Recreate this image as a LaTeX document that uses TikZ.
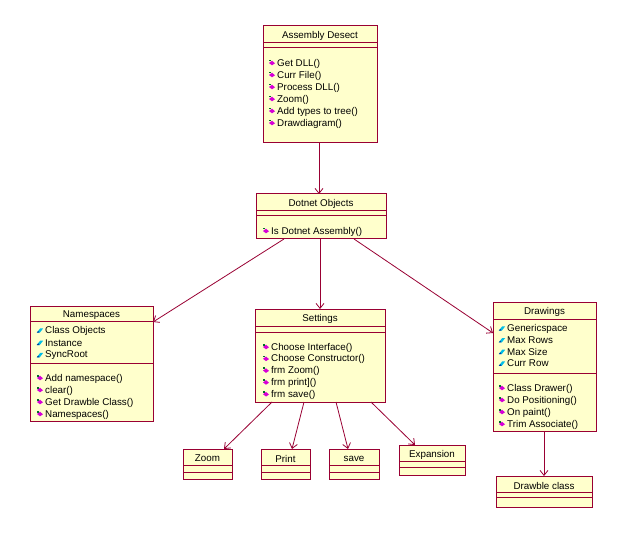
\documentclass[tikz,border=0pt]{standalone}
\usepackage{fontspec}
\setmainfont{Liberation Sans}
\usetikzlibrary{arrows.meta,calc}
\definecolor{umlborder}{RGB}{153,0,51}
\definecolor{umlfill}{RGB}{255,255,204}
\definecolor{opmag}{RGB}{214,0,214}
\definecolor{opgreen}{RGB}{0,110,40}
\definecolor{atcyan}{RGB}{0,190,230}
\definecolor{atblue}{RGB}{0,60,160}
\begin{document}
\begin{tikzpicture}[x=1pt,y=-1pt,
  classbox/.style={draw=umlborder, fill=umlfill, line width=1pt, inner sep=0pt, outer sep=0pt},
  sepline/.style={draw=umlborder, line width=1pt},
  ctitle/.style={font=\fontsize{9.8}{11}\selectfont, inner sep=0pt, yshift=-1.5pt},
  member/.style={font=\fontsize{9.8}{11}\selectfont, anchor=west, inner sep=0pt, yshift=-1.5pt},
  link/.style={draw=umlborder, line width=0.8pt, -{Straight Barb[length=5pt,width=8pt,line width=0.8pt]}},
  opic/.pic={\begin{scope}[yshift=-1.5pt]
             \fill[opmag] (-3,0.5) -- (0,-1.8) -- (3,0.8) -- (0,2.8) -- cycle;
             \fill[opgreen] (-3,-2.8) rectangle (-1.2,-1);\end{scope}},
  atic/.pic={\begin{scope}[yshift=-1.5pt]
             \fill[atcyan] (-3.2,2.2) -- (0.2,-2.2) -- (3.2,-2.2) -- (-0.2,2.2) -- cycle;
             \fill[atblue] (-3.2,2.2) -- (-1.8,0.4) -- (-0.6,2.2) -- cycle;\end{scope}}
]
\useasboundingbox (0,0) rectangle (628,534);
\fill[white] (0,0) rectangle (628,534);

% ---------- Assembly Desect
\node[classbox, minimum width=114pt, minimum height=117pt] (ad) at (320,84.5) {};
\draw[sepline] (ad.north west) ++(0,17) -- ++(114,0);
\draw[sepline] (ad.north west) ++(0,22) -- ++(114,0);
\node[ctitle] (adt) at (320,34.5) {Assembly Desect};
\foreach \t [count=\i from 0] in {Get DLL(),Curr File(),Process DLL(),Zoom(),Add types to tree(),Drawdiagram()}{
  \pic at (272,{61+12*\i}) {opic};
  \node[member] (ad\i) at (277,{62+12*\i}) {\t};
}

% ---------- Dotnet Objects
\node[classbox, minimum width=130pt, minimum height=45pt] (dn) at (321,216.5) {};
\draw[sepline] (dn.north west) ++(0,17) -- ++(130,0);
\draw[sepline] (dn.north west) ++(0,22) -- ++(130,0);
\node[ctitle] (dnt) at (321,202.5) {Dotnet Objects};
\pic at (266,229) {opic};
\node[member] (dn0) at (271,230) {Is Dotnet Assembly()};

% ---------- Settings
\node[classbox, minimum width=130pt, minimum height=93pt] (st) at (320,355.5) {};
\draw[sepline] (st.north west) ++(0,17) -- ++(130,0);
\draw[sepline] (st.north west) ++(0,23) -- ++(130,0);
\node[ctitle] (stt) at (320,317.5) {Settings};
\foreach \t [count=\i from 0] in {Choose Interface(),Choose Constructor(),frm Zoom(),frm print](),frm save()}{
  \pic at (266,{345+11.8*\i}) {opic};
  \node[member] (st\i) at (271,{346+11.8*\i}) {\t};
}

% ---------- Namespaces
\node[classbox, minimum width=123pt, minimum height=115pt] (ns) at (91.5,363.5) {};
\draw[sepline] (ns.north west) ++(0,15) -- ++(123,0);
\draw[sepline] (ns.north west) ++(0,57) -- ++(123,0);
\node[ctitle] (nst) at (91.5,313.5) {Namespaces};
\foreach \t [count=\i from 0] in {Class Objects,Instance,SyncRoot}{
  \pic at (40,{329+12.3*\i}) {atic};
  \node[member] (nsa\i) at (45,{329+12.3*\i}) {\t};
}
\foreach \t [count=\i from 0] in {Add namespace(),clear(),Get Drawble Class(),Namespaces()}{
  \pic at (40,{376+12*\i}) {opic};
  \node[member] (nso\i) at (45,{377+12*\i}) {\t};
}

% ---------- Drawings
\node[classbox, minimum width=103pt, minimum height=129pt] (dr) at (544.5,366.5) {};
\draw[sepline] (dr.north west) ++(0,17) -- ++(103,0);
\draw[sepline] (dr.north west) ++(0,71) -- ++(103,0);
\node[ctitle] (drt) at (544.5,310.5) {Drawings};
\foreach \t [count=\i from 0] in {Genericspace,Max Rows,Max Size,Curr Row}{
  \pic at (502,{327+11.7*\i}) {atic};
  \node[member] (dra\i) at (507,{327+11.7*\i}) {\t};
}
\foreach \t [count=\i from 0] in {Class Drawer(),Do Positioning(),On paint(),Trim Associate()}{
  \pic at (502,{386+12*\i}) {opic};
  \node[member] (dro\i) at (507,{387+12*\i}) {\t};
}

% ---------- Drawble class
\node[classbox, minimum width=96pt, minimum height=31pt] (dc) at (544,491.5) {};
\draw[sepline] (dc.north west) ++(0,16) -- ++(96,0);
\draw[sepline] (dc.north west) ++(0,21) -- ++(96,0);
\node[ctitle] (dct) at (544,484) {Drawble class};

% ---------- small classes
\node[classbox, minimum width=49pt, minimum height=30pt] (zm) at (207.5,464) {};
\draw[sepline] (zm.north west) ++(0,16) -- ++(49,0);
\draw[sepline] (zm.north west) ++(0,23) -- ++(49,0);
\node[ctitle] (zmt) at (207.5,457) {Zoom};

\node[classbox, minimum width=49pt, minimum height=30pt] (pr) at (285.5,464) {};
\draw[sepline] (pr.north west) ++(0,16) -- ++(49,0);
\draw[sepline] (pr.north west) ++(0,23) -- ++(49,0);
\node[ctitle] (prt) at (285.5,457) {Print};

\node[classbox, minimum width=50pt, minimum height=30pt] (sv) at (354,464) {};
\draw[sepline] (sv.north west) ++(0,16) -- ++(50,0);
\draw[sepline] (sv.north west) ++(0,23) -- ++(50,0);
\node[ctitle] (svt) at (354,457) {save};

\node[classbox, minimum width=66pt, minimum height=30pt] (ex) at (432,460) {};
\draw[sepline] (ex.north west) ++(0,16) -- ++(66,0);
\draw[sepline] (ex.north west) ++(0,22) -- ++(66,0);
\node[ctitle] (ext) at (432,453) {Expansion};

% ---------- connectors
\draw[link] (ad.south -| 319,0) -- (dn.north -| 319,0);
\draw[link] ($(dn.south west)+(28,0)$) -- ($(ns.north east)+(0,16)$);
\draw[link] (dn.south -| 320,0) -- (st.north -| 320,0);
\draw[link] ($(dn.south west)+(98,0)$) -- ($(dr.north west)+(0,31)$);
\draw[link] ($(st.south west)+(17,0)$) -- ($(zm.north west)+(41,0)$);
\draw[link] ($(st.south west)+(49,0)$) -- ($(pr.north west)+(31,0)$);
\draw[link] ($(st.south west)+(81,0)$) -- ($(sv.north west)+(19,0)$);
\draw[link] ($(st.south west)+(116,0)$) -- ($(ex.north west)+(16,0)$);
\draw[link] (dr.south -| 544,0) -- (dc.north -| 544,0);
\end{tikzpicture}
\end{document}
